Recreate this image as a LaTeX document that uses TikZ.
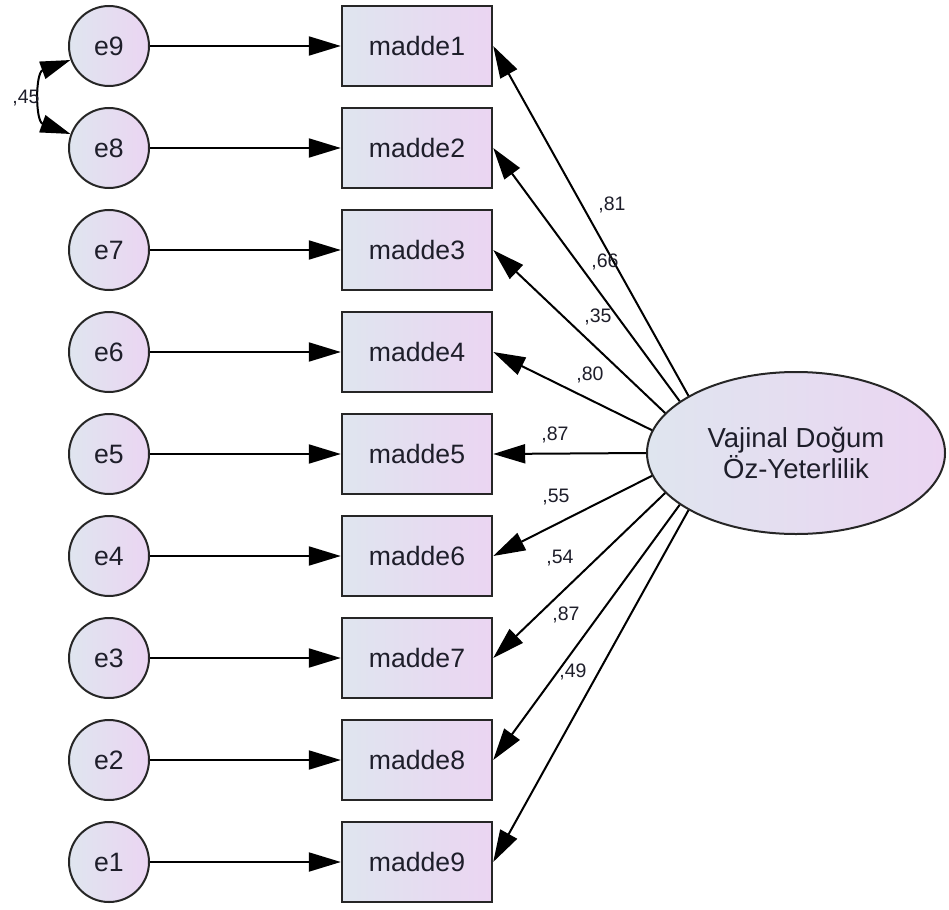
\documentclass[tikz,border=0pt]{standalone}
\usepackage{fontspec}
\setmainfont{Liberation Sans}
\usetikzlibrary{shapes.geometric,arrows.meta}
\definecolor{gradL}{HTML}{DFE5EF}
\definecolor{gradR}{HTML}{EBD5F2}
\definecolor{txt}{HTML}{1E1E2A}
\tikzset{
  obs/.style={draw=black!85, line width=2.4pt, rectangle, minimum width=150pt, minimum height=80pt, inner sep=0pt,
    left color=gradL, right color=gradR, text=txt, font=\fontsize{26.6}{31}\selectfont},
  err/.style={draw=black!85, line width=2pt, circle, minimum size=80pt, inner sep=0pt,
    left color=gradL, right color=gradR, text=txt, font=\fontsize{26.6}{31}\selectfont},
  lat/.style={draw=black!85, line width=2pt, ellipse, minimum width=298pt, minimum height=162pt, inner sep=0pt,
    left color=gradL, right color=gradR, text=txt, align=center, font=\fontsize{27.5}{31}\selectfont},
  reg/.style={line width=2pt, -{Triangle[length=32pt,width=19pt]}},
  cov/.style={line width=2pt, {Triangle[length=30pt,width=18pt]}-{Triangle[length=30pt,width=18pt]}},
  lbl/.style={text=txt, inner sep=0pt, font=\fontsize{19.5}{22}\selectfont}
}
\begin{document}
\begin{tikzpicture}[x=1pt,y=-1pt]
\useasboundingbox (0,0) rectangle (949,909);
% error terms and observed variables
\foreach \i/\e/\m in {0/9/1,1/8/2,2/7/3,3/6/4,4/5/5,5/4/6,6/3/7,7/2/8,8/1/9}{
  \node[err] (e\e) at (109,{46+102*\i}) {e\e};
  \node[obs] (m\m) at (417,{46+102*\i}) {madde\m};
  \draw[reg] (e\e) -- (m\m);
}
% latent
\node[lat] (L) at (796,453) {Vajinal Doğum\\Öz-Yeterlilik};
\draw[reg] (L.152) -- (m1.east);
\draw[reg] (L.156) -- (m2.east);
\draw[reg] (L.163) -- (m3.east);
\draw[reg] (L.171) -- (m4.east);
\draw[reg] (L.180) -- (m5.east);
\draw[reg] (L.189) -- (m6.east);
\draw[reg] (L.197) -- (m7.east);
\draw[reg] (L.204) -- (m8.east);
\draw[reg] (L.208) -- (m9.east);
% loadings
\node[lbl] (l1) at (612,205) {,81};
\node[lbl] (l2) at (605,262) {,66};
\node[lbl] (l3) at (598,317) {,35};
\node[lbl] (l4) at (590,375) {,80};
\node[lbl] (l5) at (555,435) {,87};
\node[lbl] (l6) at (556,497) {,55};
\node[lbl] (l7) at (560,558) {,54};
\node[lbl] (l8) at (566,615) {,87};
\node[lbl] (l9) at (573,672) {,49};
% covariance
\draw[cov] (e9.200) to[out=200,in=160,looseness=1.3] (e8.160);
\node[lbl] (c1) at (26,98) {,45};
\end{tikzpicture}
\end{document}
